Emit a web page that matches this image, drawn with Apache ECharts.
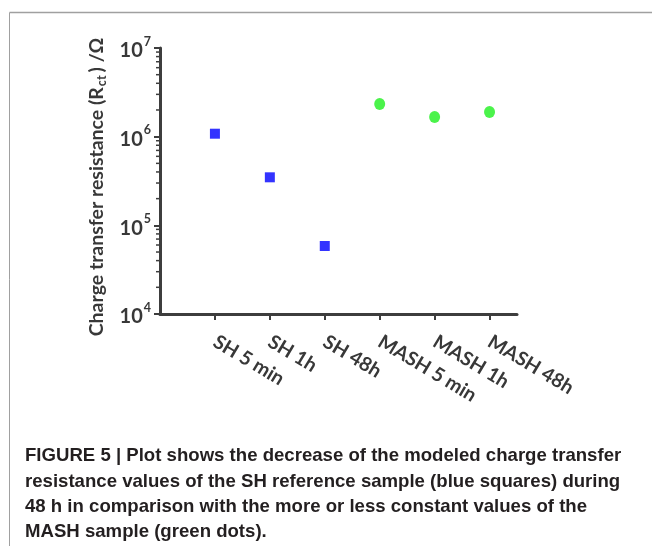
<!DOCTYPE html>
<html>
<head>
<meta charset="utf-8">
<script src="https://cdn.jsdelivr.net/npm/echarts@6/dist/echarts.min.js"></script>
<style>
html,body{margin:0;padding:0;background:#fff;}
#chart{width:652px;height:546px;}
</style>
</head>
<body>
<div id="chart"></div>
<script>
// ---- data ----
var categories = ['SH 5 min', 'SH 1h', 'SH 48h', 'MASH 5 min', 'MASH 1h', 'MASH 48h'];
var shValues = [1.08e6, 3.48e5, 5.85e4];          // blue squares (SH 5 min, SH 1h, SH 48h)
var mashValues = [2.34e6, 1.67e6, 1.90e6];        // green dots (MASH 5 min, MASH 1h, MASH 48h)
var yTickValues = [1e4, 1e5, 1e6, 1e7];
var yTickExponents = ['4', '5', '6', '7'];
var minorMultipliers = [2, 3, 4, 5, 6, 7, 8, 9];
var minorDecades = [1e4, 1e5, 1e6];
var captionLines = [
  'FIGURE 5 | Plot shows the decrease of the modeled charge transfer',
  'resistance values of the SH reference sample (blue squares) during',
  '48 h in comparison with the more or less constant values of the',
  'MASH sample (green dots).'
];

var shData = shValues.map(function (v, i) { return [i + 1, v]; });
var mashData = mashValues.map(function (v, i) { return [i + 4, v]; });
var minorTickData = [];
minorDecades.forEach(function (d) {
  minorMultipliers.forEach(function (m) { minorTickData.push([0, d * m]); });
});

var axisColor = '#3d3d3d';
var textColor = '#383838';
var fontFam = 'Lato, "Open Sans", sans-serif';

var chart = echarts.init(document.getElementById('chart'), null, {renderer: 'canvas'});

var graphics = [
  {type: 'line', shape: {x1: 9.5, y1: 12.5, x2: 652, y2: 12.5}, style: {stroke: '#a0a0a0', lineWidth: 1.5}, silent: true},
  {type: 'line', shape: {x1: 9.5, y1: 12.5, x2: 9.5, y2: 546}, style: {stroke: '#a0a0a0', lineWidth: 1}, silent: true}
];
var captionBaselines = [463, 489, 514, 539];
captionLines.forEach(function (t, i) {
  graphics.push({
    type: 'text', left: 25, top: captionBaselines[i] - 17,
    style: {text: t, fill: '#231f20', font: 'bold 18.6px "Liberation Sans", Arial, sans-serif'},
    silent: true
  });
});

chart.setOption({
  animation: false,
  backgroundColor: '#ffffff',
  grid: {left: 160, right: 135, top: 48, bottom: 232, containLabel: false},
  xAxis: {
    type: 'value', min: 0, max: 6.5, interval: 1,
    splitLine: {show: false},
    axisLine: {show: true, lineStyle: {color: axisColor, width: 3}},
    axisTick: {show: true, length: 6, lineStyle: {color: axisColor, width: 2}, customValues: [1, 2, 3, 4, 5, 6]},
    axisLabel: {
      show: true, rotate: -31, margin: 26,
      customValues: [1, 2, 3, 4, 5, 6],
      formatter: function (v) { return categories[Math.round(v) - 1] || ''; },
      color: textColor, fontSize: 19.5, fontWeight: 'bold', fontFamily: fontFam
    }
  },
  yAxis: {
    type: 'log', logBase: 10, min: 1e4, max: 1e7,
    splitLine: {show: false},
    axisLine: {show: true, lineStyle: {color: axisColor, width: 3}},
    axisTick: {show: true, length: 6, lineStyle: {color: axisColor, width: 2}},
    axisLabel: {
      margin: 9,
      formatter: function (v) {
        var idx = yTickValues.indexOf(v);
        return idx >= 0 ? '{b|10}{sup|' + yTickExponents[idx] + '}' : '';
      },
      rich: {
        b: {fontSize: 20, fontWeight: 'bold', color: textColor, fontFamily: fontFam, verticalAlign: 'bottom', lineHeight: 20},
        sup: {fontSize: 12.5, fontWeight: 'bold', color: textColor, fontFamily: fontFam, verticalAlign: 'top', lineHeight: 26, padding: [0, 0, 10, 1]}
      }
    },
    name: '{t|Charge transfer resistance (R}{s|ct}{t|) /Ω}',
    nameLocation: 'middle', nameRotate: 90, nameGap: 34,
    nameTextStyle: {
      padding: [0, 12, 0, 0],
      rich: {
        t: {fontSize: 19.5, fontWeight: 'bold', color: textColor, fontFamily: fontFam},
        s: {fontSize: 12.5, fontWeight: 'bold', color: textColor, fontFamily: fontFam, padding: [10, 3, 0, 1]}
      }
    }
  },
  graphic: graphics,
  series: [
    {
      type: 'custom', name: 'minorTicks', clip: false, silent: true, z: 1,
      data: minorTickData,
      renderItem: function (params, api) {
        var p = api.coord([api.value(0), api.value(1)]);
        return {type: 'line', shape: {x1: p[0] - 4, y1: p[1], x2: p[0], y2: p[1]},
                style: {stroke: axisColor, lineWidth: 1.5}};
      }
    },
    {
      type: 'scatter', name: 'SH', data: shData, symbol: 'rect', symbolSize: 10,
      itemStyle: {color: '#0000ff'}, z: 5
    },
    {
      type: 'scatter', name: 'MASH', data: mashData, symbol: 'circle', symbolSize: [11, 12],
      itemStyle: {color: '#1ef01e'}, z: 5
    }
  ]
});
</script>
</body>
</html>
